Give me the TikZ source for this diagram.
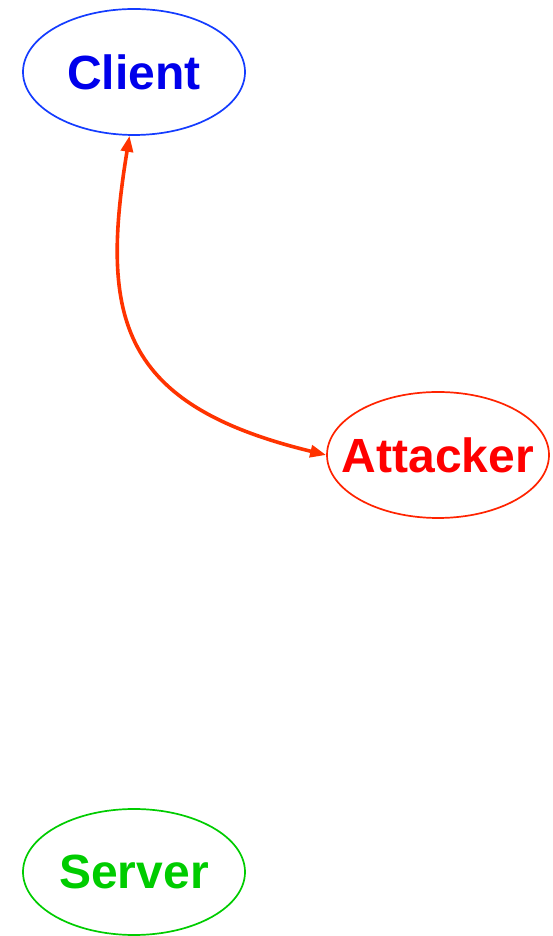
\documentclass[tikz,border=0pt]{standalone}
\usepackage{fontspec}
\setmainfont{Liberation Sans}
\definecolor{clientblue}{RGB}{0,0,235}
\definecolor{clientline}{RGB}{20,60,255}
\definecolor{attackred}{RGB}{255,0,0}
\definecolor{attackline}{RGB}{255,35,0}
\definecolor{servergreen}{RGB}{0,204,0}
\definecolor{linkred}{RGB}{255,51,0}
\usetikzlibrary{arrows.meta,shapes.geometric}

\begin{document}
\begin{tikzpicture}[x=1pt, y=1pt,
    host/.style={ellipse, draw, line width=1.7pt, minimum width=222pt,
                 minimum height=126pt, inner xsep=-40pt, inner ysep=0pt,
                 font=\fontsize{48}{48}\selectfont\bfseries},
    link/.style={draw=linkred, line width=3.6pt,
                 {Triangle[length=16pt,width=12pt]}-{Triangle[length=16pt,width=12pt]}}]
    \useasboundingbox (0,0) rectangle (553,936);
    \node[host, draw=clientline, text=clientblue] (client) at (134,864) {Client};
    \node[host, draw=attackline, text=attackred] (attacker) at (438,481) {Attacker};
    \node[host, draw=servergreen, text=servergreen] (server) at (134,64) {Server};
    % client <-> attacker
    \draw[link] (client.266) .. controls +(-30,-183) and +(-206,50) .. (attacker.west);
  \end{tikzpicture}
\end{document}
